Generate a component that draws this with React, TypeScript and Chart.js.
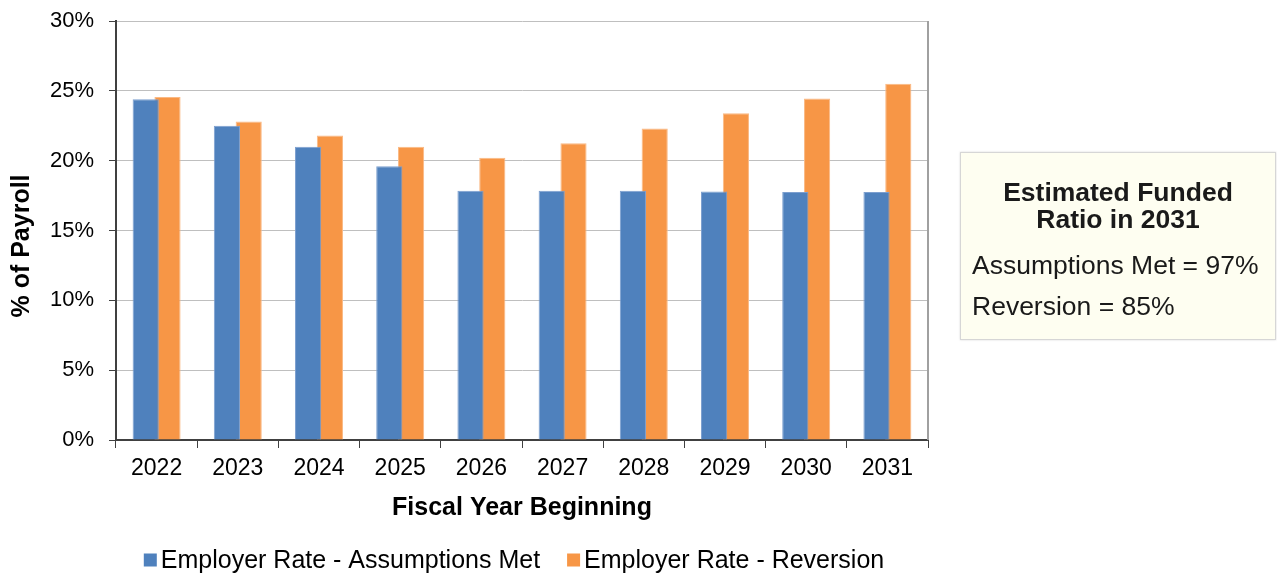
import React, { useEffect, useRef } from "react";
import { Chart, registerables } from "chart.js";

Chart.register(...registerables);

const years = ["2022", "2023", "2024", "2025", "2026", "2027", "2028", "2029", "2030", "2031"];
const assumptionsMet = [24.4, 22.5, 21.0, 19.6, 17.85, 17.85, 17.85, 17.8, 17.75, 17.75];
const reversion = [24.55, 22.8, 21.8, 21.0, 20.2, 21.25, 22.3, 23.4, 24.45, 25.5];
const seriesLabels = ["Employer Rate - Assumptions Met", "Employer Rate - Reversion"];
const yTitle = "% of Payroll";
const xTitle = "Fiscal Year Beginning";
const boxTitle = ["Estimated Funded", "Ratio in 2031"];
const boxLines = ["Assumptions Met = 97%", "Reversion = 85%"];

const FONT = "'Liberation Sans', Arial, Helvetica, sans-serif";

const framePlugin = {
  id: "frame",
  afterDraw(chart: any) {
    const { ctx, chartArea } = chart;
    ctx.save();
    ctx.strokeStyle = "#A0A0A0";
    ctx.lineWidth = 2;
    ctx.beginPath();
    ctx.moveTo(chartArea.right, chartArea.top);
    ctx.lineTo(chartArea.right, chartArea.bottom);
    ctx.stroke();
    // y axis title
    ctx.translate(22, 246);
    ctx.rotate(-Math.PI / 2);
    ctx.font = `bold 25px ${FONT}`;
    ctx.fillStyle = "#000";
    ctx.textAlign = "center";
    ctx.textBaseline = "middle";
    ctx.fillText(yTitle, 0, 0);
    ctx.restore();
  },
};

const legendPlugin = {
  id: "customLegend",
  afterDraw(chart: any) {
    const { ctx, chartArea } = chart;
    const ds = chart.data.datasets;
    ctx.save();
    ctx.font = `25px ${FONT}`;
    ctx.textBaseline = "middle";
    ctx.textAlign = "left";
    const box = 13;
    const gap = 4;
    const itemGap = 27;
    const widths = ds.map((d: any) => ctx.measureText(d.label).width);
    const total = widths.reduce((a: number, w: number) => a + box + gap + w, 0) + itemGap * (ds.length - 1);
    const center = (chartArea.left + chartArea.right) / 2 - 8;
    let x = center - total / 2;
    const y = 560;
    ds.forEach((d: any, i: number) => {
      ctx.fillStyle = d.backgroundColor;
      ctx.fillRect(x, y - box / 2, box, box);
      ctx.fillStyle = "#000";
      ctx.fillText(d.label, x + box + gap, y + 1);
      x += box + gap + widths[i] + itemGap;
    });
    ctx.restore();
  },
};

export default function App() {
  const ref = useRef<HTMLCanvasElement | null>(null);

  useEffect(() => {
    document.body.style.margin = "0";
    const canvas = ref.current;
    if (!canvas) return;
    const chart = new Chart(canvas, {
      type: "bar",
      data: {
        labels: years,
        datasets: [
          {
            label: seriesLabels[0],
            data: assumptionsMet,
            backgroundColor: "#4F81BD",
            borderColor: "#7C9FCF",
            borderWidth: 1,
            categoryPercentage: 0.537,
            barPercentage: 1.2,
          },
          {
            label: seriesLabels[1],
            data: reversion,
            backgroundColor: "#F79646",
            borderColor: "#FAB984",
            borderWidth: 1,
            categoryPercentage: 0.537,
            barPercentage: 1.2,
          },
        ],
      },
      options: {
        animation: false,
        responsive: false,
        maintainAspectRatio: false,
        layout: { padding: { left: 0, top: 21, right: 349, bottom: 49 } },
        plugins: {
          legend: { display: false },
          tooltip: { enabled: false },
        },
        scales: {
          x: {
            offset: true,
            grid: {
              offset: true,
              drawOnChartArea: false,
              drawTicks: true,
              tickLength: 8,
              tickColor: "#404040",
              tickWidth: 1,
            },
            border: { color: "#404040", width: 2 },
            ticks: {
              color: "#000",
              font: { family: FONT, size: 23 },
              padding: 7,
              maxRotation: 0,
            },
            title: {
              display: true,
              text: xTitle,
              color: "#000",
              font: { family: FONT, size: 25, weight: "bold" },
              padding: { top: 0, bottom: 1 },
            },
            afterFit(scale: any) {
              scale.height = 84;
              scale.paddingLeft = 0;
              scale.paddingRight = 0;
            },
          },
          y: {
            min: 0,
            max: 30,
            grid: {
              color: "#BFBFBF",
              lineWidth: 1,
              tickLength: 7,
              tickColor: "#404040",
            },
            border: { color: "#404040", width: 2 },
            ticks: {
              stepSize: 5,
              color: "#000",
              font: { family: FONT, size: 22 },
              padding: 15,
              callback: (v: any) => `${v}%`,
            },
            title: { display: false },
            afterFit(scale: any) {
              scale.width = 116;
              scale.paddingTop = 0;
              scale.paddingBottom = 0;
            },
          },
        },
      },
      plugins: [framePlugin, legendPlugin],
    });
    return () => chart.destroy();
  }, []);

  return (
    <div style={{ position: "fixed", left: 0, top: 0, width: 1277, height: 573, background: "#fff" }}>
      <canvas ref={ref} width={1277} height={573} style={{ display: "block" }} />
      <div
        style={{
          position: "absolute",
          left: 960,
          top: 152,
          width: 314,
          height: 186,
          background: "#FEFEF1",
          border: "1px solid #D6D6D6",
          boxShadow: "0 0 2px rgba(0,0,0,0.15)",
          fontFamily: FONT,
          color: "#1a1a1a",
        }}
      >
        <div
          style={{
            position: "absolute",
            left: 0,
            right: 0,
            top: 178 - 152,
            textAlign: "center",
            fontWeight: "bold",
            fontSize: 26.5,
            lineHeight: "27px",
          }}
        >
          {boxTitle.map((t) => (
            <div key={t}>{t}</div>
          ))}
        </div>
        {boxLines.map((t, i) => (
          <div
            key={t}
            style={{
              position: "absolute",
              left: 11,
              top: 264 - 152 - 15 + i * 41,
              fontSize: 26.5,
              lineHeight: "30px",
              whiteSpace: "nowrap",
            }}
          >
            {t}
          </div>
        ))}
      </div>
    </div>
  );
}
